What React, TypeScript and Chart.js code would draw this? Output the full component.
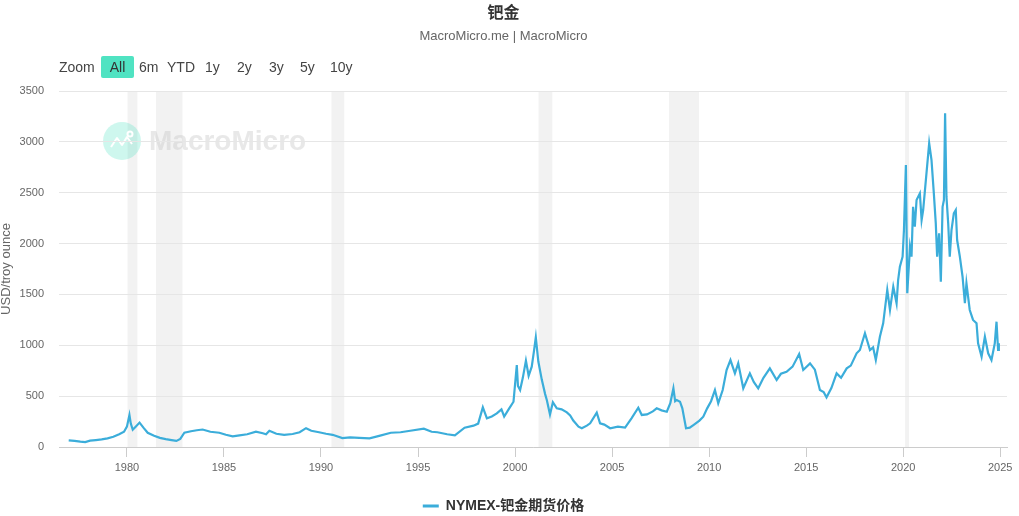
import React, { useEffect, useRef } from "react";
import { Chart, registerables } from "chart.js";

Chart.register(...registerables);

const FONT = "'Liberation Sans', 'Noto Sans CJK SC', sans-serif";

const chartTitle = "钯金";
const chartSubtitle = "MacroMicro.me | MacroMicro";
const seriesName = "NYMEX-钯金期货价格";
const yAxisTitle = "USD/troy ounce";
const zoomLabels = ["6m", "YTD", "1y", "2y", "3y", "5y", "10y"];
const zoomLefts = [139, 167, 205, 237, 269, 300, 330];

const yTicks = [0, 500, 1000, 1500, 2000, 2500, 3000, 3500];
const xTickYears = [1980, 1985, 1990, 1995, 2000, 2005, 2010, 2015, 2020, 2025];

const recessionStarts = [1980.03, 1981.5, 1990.54, 2001.21, 2007.93, 2020.1];
const recessionEnds = [1980.54, 1982.86, 1991.2, 2001.92, 2009.48, 2020.3];

// decimal year of each observation
const dates = [
  1977.0, 1977.3, 1977.6, 1977.85, 1978.1, 1978.4, 1978.7, 1979.0, 1979.3, 1979.6, 1979.85,
  1980.0, 1980.13, 1980.2, 1980.3, 1980.45, 1980.65, 1980.85, 1981.07, 1981.4, 1981.7,
  1982.0, 1982.3, 1982.55, 1982.75, 1982.96, 1983.3, 1983.6, 1983.9, 1984.3, 1984.76,
  1985.1, 1985.45, 1985.8, 1986.2, 1986.65, 1987.0, 1987.17, 1987.34, 1987.7, 1988.1,
  1988.54, 1988.9, 1989.23, 1989.5, 1989.9, 1990.26, 1990.6, 1991.1, 1991.5, 1991.97,
  1992.5, 1993.0, 1993.6, 1994.1, 1994.6, 1995.3, 1995.7, 1996.0, 1996.5, 1996.9,
  1997.4, 1997.86, 1998.1, 1998.34, 1998.55, 1998.8, 1999.06, 1999.3, 1999.44, 1999.7,
  1999.92, 2000.09, 2000.15, 2000.26, 2000.4, 2000.56, 2000.7, 2000.86, 2000.98, 2001.07,
  2001.2, 2001.38, 2001.55, 2001.64, 2001.8, 2001.95, 2002.15, 2002.4, 2002.67, 2002.84,
  2003.0, 2003.27, 2003.44, 2003.7, 2003.87, 2004.21, 2004.38, 2004.6, 2004.9, 2005.3,
  2005.67, 2006.0, 2006.35, 2006.53, 2006.8, 2007.1, 2007.3, 2007.55, 2007.82, 2008.0,
  2008.16, 2008.25, 2008.33, 2008.5, 2008.62, 2008.81, 2009.0, 2009.19, 2009.5, 2009.7,
  2009.9, 2010.1, 2010.3, 2010.47, 2010.7, 2010.9, 2011.1, 2011.33, 2011.5, 2011.76,
  2012.1, 2012.3, 2012.53, 2012.8, 2013.13, 2013.48, 2013.7, 2013.99, 2014.3, 2014.64,
  2014.85, 2015.2, 2015.45, 2015.71, 2015.9, 2016.05, 2016.3, 2016.57, 2016.8, 2017.09,
  2017.3, 2017.6, 2017.77, 2018.03, 2018.29, 2018.45, 2018.59, 2018.8, 2018.97, 2019.18,
  2019.32, 2019.49, 2019.66, 2019.74, 2019.83, 2019.97, 2020.04, 2020.14, 2020.21, 2020.35,
  2020.43, 2020.51, 2020.6, 2020.69, 2020.86, 2020.95, 2021.03, 2021.2, 2021.34, 2021.46,
  2021.58, 2021.68, 2021.75, 2021.85, 2021.94, 2022.03, 2022.1, 2022.16, 2022.23, 2022.32,
  2022.4, 2022.49, 2022.61, 2022.71, 2022.78, 2022.92, 2023.06, 2023.18, 2023.26, 2023.43,
  2023.6, 2023.78, 2023.86, 2024.04, 2024.21, 2024.38, 2024.55, 2024.72, 2024.81, 2024.89,
  2024.93,
];

// NYMEX palladium futures, USD/troy ounce
const prices = [
  65, 60, 52, 48, 62, 68, 75, 85, 100, 125, 150,
  200, 315, 230, 170, 200, 240, 190, 140, 110, 90,
  78, 68, 60, 80, 140, 155, 165, 172, 150, 140,
  120, 105, 115, 125, 150, 135, 125, 160, 130, 120,
  128, 145, 185, 160, 145, 130, 120, 88, 95, 90,
  85, 110, 140, 145, 160, 180, 150, 145, 125, 115,
  190, 210, 230, 390, 282, 300, 330, 370, 300, 380,
  445, 806, 600, 560, 680, 849, 700, 790, 950, 1078,
  840, 660, 520, 460, 320, 440, 380, 370, 340, 310,
  260, 200, 184, 210, 233, 337, 233, 220, 184, 200,
  190, 282, 386, 315, 320, 350, 380, 360, 347, 430,
  577, 450, 462, 445, 380, 184, 190, 216, 260, 298,
  380, 450, 560, 429, 560, 757, 855, 724, 822, 577,
  724, 640, 577, 680, 773, 659, 720, 740, 790, 914,
  757, 822, 760, 560, 540, 488, 580, 724, 680, 773,
  800, 921, 954, 1118, 954, 980, 855, 1084, 1216, 1544,
  1347, 1576, 1413, 1642, 1773, 1871, 2133, 2772, 1511, 1969,
  1871, 2362, 2166, 2428, 2494, 2232, 2330, 2690, 2986, 2821,
  2494, 2199, 1871, 2101, 1625, 2362, 2428, 3281, 2461, 2199,
  1871, 2133, 2297, 2330, 2035, 1871, 1674, 1413, 1609, 1347,
  1249, 1216, 1019, 888, 1084, 921, 855, 1019, 1232, 954,
  1019,
];

const LINE_COLOR = "#3badda";

const backdropPlugin = {
  id: "backdrop",
  beforeDraw(chart: any) {
    const { ctx, chartArea, scales } = chart;
    const xs = scales.x;
    ctx.save();
    ctx.fillStyle = "#f2f2f2";
    for (let i = 0; i < recessionStarts.length; i++) {
      const x0 = xs.getPixelForValue(recessionStarts[i]);
      const x1 = xs.getPixelForValue(recessionEnds[i]);
      ctx.fillRect(x0, chartArea.top, x1 - x0, chartArea.bottom - chartArea.top);
    }
    // watermark
    const cx = chartArea.left + 63;
    const cy = chartArea.top + 50;
    ctx.fillStyle = "rgba(80, 227, 194, 0.28)";
    ctx.beginPath();
    ctx.arc(cx, cy, 19, 0, Math.PI * 2);
    ctx.fill();
    ctx.strokeStyle = "#ffffff";
    ctx.lineWidth = 2;
    ctx.lineJoin = "round";
    ctx.beginPath();
    ctx.moveTo(cx - 11, cy + 6);
    ctx.lineTo(cx - 5, cy - 3);
    ctx.lineTo(cx, cy + 4);
    ctx.lineTo(cx + 5, cy - 4);
    ctx.lineTo(cx + 10, cy + 3);
    ctx.stroke();
    ctx.beginPath();
    ctx.arc(cx + 8, cy - 7, 2.5, 0, Math.PI * 2);
    ctx.stroke();
    ctx.fillStyle = "rgba(200, 200, 200, 0.42)";
    ctx.font = `bold 28px ${FONT}`;
    ctx.textBaseline = "middle";
    ctx.textAlign = "left";
    ctx.fillText("MacroMicro", cx + 27, cy + 1);
    ctx.restore();
  },
};

export default function App() {
  const canvasRef = useRef<HTMLCanvasElement | null>(null);

  useEffect(() => {
    const canvas = canvasRef.current;
    if (!canvas) return;
    Chart.defaults.font.family = FONT;
    const points = dates.map((d, i) => ({ x: d, y: prices[i] }));
    const chart = new Chart(canvas, {
      type: "line",
      data: {
        datasets: [
          {
            label: seriesName,
            data: points,
            borderColor: LINE_COLOR,
            backgroundColor: LINE_COLOR,
            borderWidth: 2.2,
            pointRadius: 0,
            tension: 0,
          },
        ],
      },
      options: {
        animation: false,
        responsive: false,
        devicePixelRatio: 1,
        layout: { padding: { left: 0, right: 12, top: 0, bottom: -7 } },
        plugins: {
          title: {
            display: true,
            text: chartTitle,
            color: "#333333",
            font: { size: 16, weight: "bold", family: FONT },
            padding: { top: 4, bottom: 2 },
          },
          subtitle: {
            display: true,
            text: chartSubtitle,
            color: "#666666",
            font: { size: 13, family: FONT },
            padding: { top: 3, bottom: 47.2 },
          },
          legend: {
            display: true,
            position: "bottom",
            labels: {
              color: "#333333",
              font: { size: 14, weight: "bold", family: FONT },
              usePointStyle: true,
              pointStyle: "line",
              pointStyleWidth: 16,
              boxWidth: 16,
              padding: 4,
              generateLabels(chart: any) {
                const base = Chart.defaults.plugins.legend.labels.generateLabels(chart);
                return base.map((l: any) => ({ ...l, lineWidth: 3, pointStyle: "line" }));
              },
            },
          },
          tooltip: { enabled: false },
        },
        scales: {
          x: {
            type: "linear",
            min: 1976.5,
            max: 2025.35,
            afterBuildTicks(scale: any) {
              scale.ticks = xTickYears.map((v) => ({ value: v }));
            },
            afterFit(scale: any) {
              scale.height = 48;
            },
            ticks: {
              color: "#666666",
              font: { size: 11 },
              padding: 4,
              maxRotation: 0,
              autoSkip: false,
              callback: (v: any) => String(v),
            },
            grid: {
              display: true,
              drawOnChartArea: false,
              drawTicks: true,
              tickLength: 10,
              color: "#cccccc",
            },
            border: { display: true, color: "#cccccc" },
          },
          y: {
            type: "linear",
            min: 0,
            max: 3500,
            afterBuildTicks(scale: any) {
              scale.ticks = yTicks.map((v) => ({ value: v }));
            },
            afterFit(scale: any) {
              scale.width = 59;
            },
            ticks: {
              color: "#666666",
              font: { size: 11 },
              padding: 15,
              callback: (v: any) => String(v),
            },
            grid: { color: "#e6e6e6", drawTicks: false },
            border: { display: false },
            title: {
              display: true,
              text: yAxisTitle,
              color: "#666666",
              font: { size: 13 },
              padding: { top: -1, bottom: 0 },
            },
          },
        },
      },
      plugins: [backdropPlugin],
    } as any);
    return () => chart.destroy();
  }, []);

  const btnText: React.CSSProperties = {
    position: "absolute",
    top: 56,
    height: 22,
    lineHeight: "22px",
    fontSize: 14,
    fontFamily: FONT,
    color: "#444444",
  };

  return (
    <div style={{ position: "absolute", left: 0, top: 0, width: 1019, height: 516, background: "#ffffff" }}>
      <canvas ref={canvasRef} width={1019} height={516} style={{ display: "block" }} />
      <span style={{ ...btnText, left: 59 }}>Zoom</span>
      <span
        style={{
          ...btnText,
          left: 101,
          width: 33,
          textAlign: "center",
          background: "#50e3c2",
          borderRadius: 2,
          color: "#333333",
        }}
      >
        All
      </span>
      {zoomLabels.map((t, i) => (
        <span key={t} style={{ ...btnText, left: zoomLefts[i] }}>
          {t}
        </span>
      ))}
    </div>
  );
}
